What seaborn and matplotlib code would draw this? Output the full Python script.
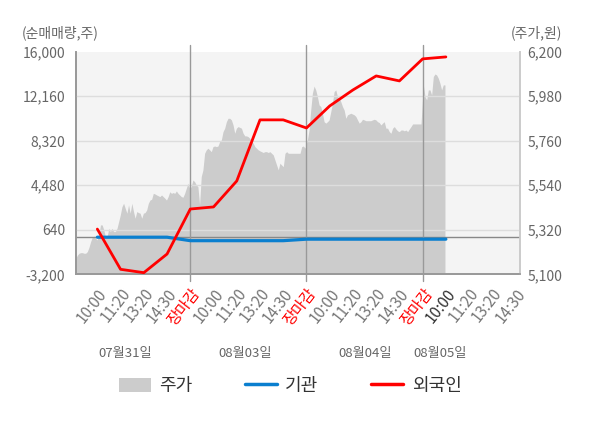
import numpy as np
import pandas as pd
import matplotlib
matplotlib.use("Agg")
import matplotlib.pyplot as plt
import matplotlib.transforms as mtransforms
import seaborn as sns
from matplotlib.lines import Line2D
from matplotlib.patches import Patch

sns.set_theme(style="white")
plt.rcParams['font.family'] = ['Noto Sans CJK KR', 'DejaVu Sans']

# ---------------- data ----------------
time_labels = ["10:00", "11:20", "13:20", "14:30", "장마감",
               "10:00", "11:20", "13:20", "14:30", "장마감",
               "10:00", "11:20", "13:20", "14:30", "장마감",
               "10:00", "11:20", "13:20", "14:30"]
date_labels = ["07월31일", "08월03일", "08월04일", "08월05일"]

# intraday price (원), sampled evenly across each session
price_day1 = [5130, 5179, 5195, 5204, 5207, 5207, 5204, 5204, 5212, 5233, 5261, 5283,
              5289, 5278, 5270, 5294, 5344, 5344, 5319, 5286, 5286, 5327, 5311, 5327,
              5311, 5311, 5327, 5360, 5393, 5434, 5451, 5426, 5402, 5443, 5402, 5451,
              5410, 5377, 5410, 5405, 5402, 5377, 5402, 5405, 5418, 5451, 5467, 5471,
              5500, 5497, 5492, 5488, 5484, 5492, 5484, 5476, 5467, 5484, 5508, 5500,
              5504, 5500, 5512, 5500, 5492, 5484, 5481, 5500, 5525, 5550, 5525]
price_day2 = [5533, 5566, 5558, 5542, 5533, 5443, 5583, 5616, 5698, 5715, 5723, 5715,
              5706, 5731, 5734, 5731, 5734, 5756, 5764, 5805, 5822, 5854, 5871, 5871,
              5863, 5838, 5797, 5822, 5830, 5826, 5822, 5797, 5784, 5784, 5780, 5772,
              5756, 5748, 5731, 5723, 5715, 5710, 5706, 5702, 5706, 5706, 5702, 5706,
              5698, 5690, 5665, 5640, 5616, 5649, 5640, 5632, 5698, 5706, 5698, 5698,
              5698, 5698, 5698, 5698, 5698, 5698, 5731, 5734, 5723]
price_day3 = [5764, 5813, 5912, 5995, 6030, 6011, 5978, 5937, 5929, 5896, 5854, 5847,
              5854, 5863, 5904, 5945, 6003, 6011, 5978, 5970, 5953, 5929, 5912, 5871,
              5888, 5892, 5896, 5892, 5888, 5880, 5863, 5847, 5854, 5866, 5863, 5859,
              5859, 5859, 5859, 5863, 5866, 5863, 5854, 5850, 5838, 5847, 5854, 5822,
              5822, 5805, 5797, 5822, 5830, 5818, 5809, 5805, 5813, 5813, 5809, 5813,
              5805, 5818, 5830, 5843, 5843, 5843, 5843, 5843, 5843]
price_day4 = [6036, 5978, 5962, 6011, 6011, 5986, 6077, 6090, 6085, 6069, 6044, 6011,
              6036, 6036]

# net buying volume (주) at each time tick
foreign = [700, -2770, -3060, -1450, 2430, 2610, 4850, 10120, 10120, 9420,
           11320, 12700, 13910, 13480, 15380, 15550]
institution = [0, 0, 0, 0, -300, -300, -300, -300, -300, -170,
               -170, -170, -170, -170, -170, -170]

left_ticks = [-3200, 640, 4480, 8320, 12160, 16000]
right_ticks = [5100, 5320, 5540, 5760, 5980, 6200]

# ---------------- build frames ----------------
day_len = 5
spans = [(0.0, 4.97), (0.04, 4.94), (0.04, 4.93), (0.03, 0.96)]
px, pv = [], []
for d, (vals, (a, b)) in enumerate(zip([price_day1, price_day2, price_day3, price_day4], spans)):
    px.extend(d * day_len + np.linspace(a, b, len(vals)))
    pv.extend(vals)
price_df = pd.DataFrame({"x": px, "price": pv})

tick_pos = np.arange(1, len(time_labels) + 1)
inv_df = pd.DataFrame({
    "x": np.concatenate([tick_pos[:len(foreign)], tick_pos[:len(institution)]]),
    "value": foreign + institution,
    "who": ["외국인"] * len(foreign) + ["기관"] * len(institution),
})

# ---------------- figure ----------------
W, H = 600, 428
fig = plt.figure(figsize=(6.0, 4.28), dpi=100)
ax = fig.add_axes([75.5 / W, 1 - 274.3 / H, (520 - 75.5) / W, (274.3 - 51.7) / H])
ax.set_facecolor("#f4f4f4")

grey_area = "#cccccc"
ax.fill_between(price_df["x"], right_ticks[0], price_df["price"], color=grey_area,
                linewidth=0, zorder=1)
ax.set_ylim(right_ticks[0], right_ticks[-1])
ax.set_xlim(0.06, 19.19)

ax2 = ax.twinx()
ax2.patch.set_visible(False)
ax2.yaxis.tick_left()
ax2.set_ylim(left_ticks[0], left_ticks[-1])
ax2.set_yticks(left_ticks)
ax2.set_yticklabels([f"{v:,}" for v in left_ticks])

ax.yaxis.tick_right()
ax.set_yticks(right_ticks)
ax.set_yticklabels([f"{v:,}" for v in right_ticks])

for v in left_ticks[1:-1]:
    ax2.axhline(v, color="#dddddd", lw=1.0, zorder=1)
ax2.axhline(0, color="#888888", lw=1.0, zorder=2)
for d in (5, 10, 15):
    ax2.axvline(d, ymin=-0.03, ymax=1.03, color="#999999", lw=1.0, zorder=2, clip_on=False)

sns.lineplot(data=inv_df, x="x", y="value", hue="who", ax=ax2,
             palette={"기관": "#0a7fcf", "외국인": "#ff0000"},
             hue_order=["기관", "외국인"], legend=False, zorder=4)
for ln in ax2.get_lines():
    if ln.get_color() == "#0a7fcf":
        ln.set_linewidth(2.3)
        ln.set_zorder(3)
    elif ln.get_color() == "#ff0000":
        ln.set_linewidth(2.0)
        ln.set_zorder(4)
ax2.set_xlabel("")
ax2.set_ylabel("")
ax.set_xlabel("")
ax.set_ylabel("")

# ticks
ax.set_xticks(tick_pos)
ax.set_xticklabels(time_labels, rotation=52, ha="right", va="top",
                   rotation_mode="anchor", fontsize=11)
offset = mtransforms.ScaledTranslation(4 / 100, 0, fig.dpi_scale_trans)
for i, lbl in enumerate(ax.get_xticklabels()):
    lbl.set_transform(lbl.get_transform() + offset)
    if lbl.get_text() == "장마감":
        lbl.set_color("#ff0000")
    elif i == 15:
        lbl.set_color("#333333")
    else:
        lbl.set_color("#777777")
ax.tick_params(axis="x", length=0, pad=8)
ax.tick_params(axis="y", length=0, pad=5.5, labelsize=10, labelcolor="#666666")
ax2.tick_params(axis="y", length=0, pad=7.5, labelsize=10, labelcolor="#666666")
ax2.tick_params(axis="x", length=0)

for a in (ax, ax2):
    a.spines["top"].set_visible(False)
    a.spines["left"].set_color("#999999")
    a.spines["bottom"].set_color("#999999")
    a.spines["right"].set_color("#cccccc")
    a.grid(False)

# axis titles
fig.text(22 / W, 1 - 33 / H, "(순매매량,주)", fontsize=10, color="#666666",
         ha="left", va="center")
fig.text(562 / W, 1 - 33 / H, "(주가,원)", fontsize=10, color="#666666",
         ha="right", va="center")

# date labels
for lbl, xp in zip(date_labels, [125, 245, 365, 440]):
    fig.text(xp / W, 1 - 353 / H, lbl, fontsize=9.5, color="#666666",
             ha="center", va="center")

handles = [Patch(facecolor=grey_area, edgecolor="none", label="주가"),
           Line2D([], [], color="#0a7fcf", lw=2.5, label="기관"),
           Line2D([], [], color="#ff0000", lw=2.5, label="외국인")]
fig.legend(handles=handles, loc="center", bbox_to_anchor=(290 / W, 1 - 386 / H),
           ncol=3, frameon=False, fontsize=13, handlelength=1.8, handleheight=0.85,
           handletextpad=0.45, columnspacing=2.9, labelcolor="#333333")

fig.savefig("out.png", dpi=100)
